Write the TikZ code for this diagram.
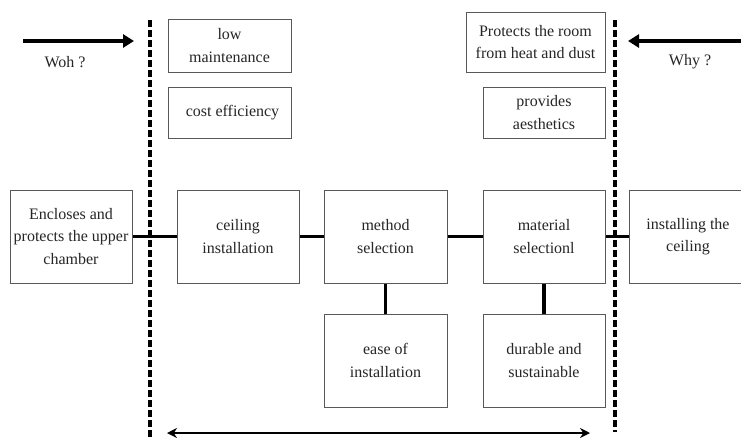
\documentclass[tikz,border=0pt]{standalone}
\usepackage{fontspec}
\setmainfont{Liberation Serif}
\usetikzlibrary{arrows.meta}
\tikzset{
  box/.style={draw=black!65, line width=1pt, rectangle, align=center,
    inner sep=2pt, font=\fontsize{16}{22.5}\selectfont, text=black!85},
  link/.style={line width=3.6pt, black},
  divider/.style={line width=3.2pt, dash pattern=on 7pt off 3pt, black},
  bigarrow/.style={line width=3.4pt, -{Triangle[length=11pt,width=13pt]}},
  lbl/.style={font=\fontsize{16}{22}\selectfont, text=black!85}
}
\begin{document}
\begin{tikzpicture}[x=1pt,y=-1pt]
\useasboundingbox (0,0) rectangle (741,437);
\fill[white] (0,0) rectangle (741,437);

% dividers
\coordinate (dlt) at (150,20);
\coordinate (dlb) at (150,437);
\coordinate (drt) at (615,20);
\coordinate (drb) at (615,432);
\draw[divider] (dlt) -- (dlb);
\draw[divider] (drt) -- (drb);

% top arrows
\coordinate (a1s) at (23,41);
\coordinate (a1e) at (134,41);
\coordinate (a2s) at (741,41);
\coordinate (a2e) at (628,41);
\draw[bigarrow] (a1s) -- (a1e);
\draw[bigarrow] (a2s) -- (a2e);
\node[lbl] (woh) at (65,62) {Woh ?};
\node[lbl] (why) at (690,62) {Why ?};

% top boxes
\node[box, minimum width=123pt, minimum height=53pt] (low) at (229.5,45.5) {low\\maintenance};
\node[box, minimum width=123pt, minimum height=51pt] (cost) at (229.5,112.5) {\hspace*{6pt}cost efficiency};
\node[box, minimum width=139pt, minimum height=60pt] (prot) at (535.5,42) {Protects the room\\from heat and dust};
\node[box, minimum width=122pt, minimum height=51pt] (aes) at (544,112.5) {provides\\aesthetics};

% middle row
\node[box, minimum width=122pt, minimum height=93pt] (enc) at (71,236.5) {Encloses and\\protects the upper\\chamber};
\node[box, minimum width=122pt, minimum height=93pt] (ceil) at (238,236.5) {ceiling\\installation};
\node[box, minimum width=123pt, minimum height=93pt] (meth) at (385.5,236.5) {method\\selection};
\node[box, minimum width=122pt, minimum height=93pt] (mat) at (544,236.5) {material\\selectionl};
\node[box, minimum width=118pt, minimum height=93pt] (inst) at (688,236.5) {installing the\\ceiling};

% bottom row
\node[box, minimum width=123pt, minimum height=93pt] (ease) at (385.5,360.5) {ease of\\installation};
\node[box, minimum width=122pt, minimum height=93pt] (dur) at (544,360.5) {durable and\\sustainable};

% connectors
\draw[link] (enc) -- (ceil);
\draw[link] (ceil) -- (meth);
\draw[link] (meth) -- (mat);
\draw[link] (mat) -- (inst);
\draw[link] (meth) -- (ease);
\draw[link] (mat) -- (dur);

% bottom double arrow
\coordinate (bl) at (167,433);
\coordinate (br) at (590,433);
\draw[line width=2.4pt, {Stealth[length=10pt,width=10pt]}-{Stealth[length=10pt,width=10pt]}] (bl) -- (br);
\end{tikzpicture}
\end{document}
